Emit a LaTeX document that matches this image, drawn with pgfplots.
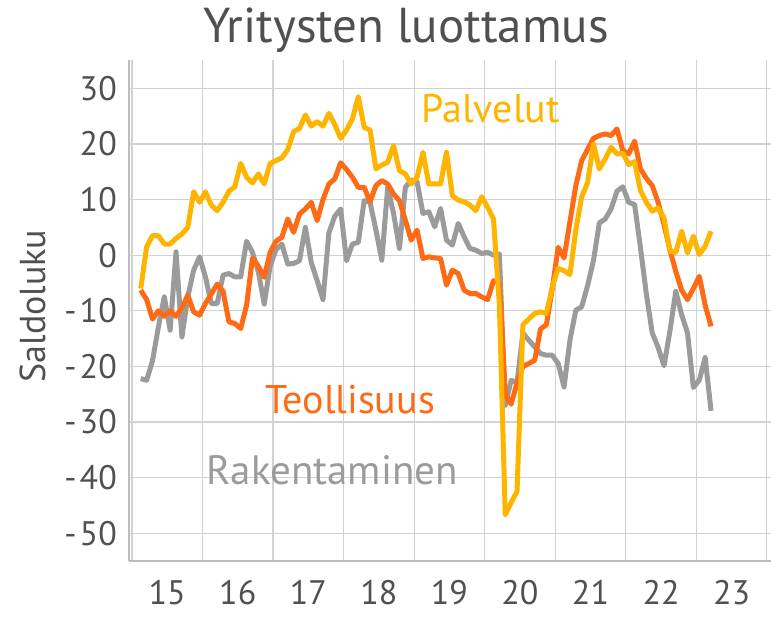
\documentclass[border=0pt]{standalone}
\usepackage{fontspec}
\setmainfont{PT Sans}
\usepackage{pgfplots}
\pgfplotsset{compat=1.18}
\definecolor{cpal}{HTML}{FFB400}
\definecolor{cteo}{HTML}{FF6A14}
\definecolor{crak}{HTML}{9B9B9B}
\definecolor{cgrid}{HTML}{D2D2D2}
\definecolor{caxis}{HTML}{BDBDBD}
\definecolor{ctext}{HTML}{505050}
\begin{document}
\begin{tikzpicture}[x=1pt,y=1pt]
\useasboundingbox (0,0) rectangle (771,616);
\begin{axis}[
  at={(129pt,55pt)}, anchor=south west,
  scale only axis, width=642pt, height=500.5pt,
  xmin=-0.5, xmax=108.7, ymin=-55, ymax=35,
  axis x line*=bottom, axis y line*=left,
  axis line style={caxis, line width=1.5pt},
  xtick={0,12,...,108},
  xticklabels={15,16,17,18,19,20,21,22,23},
  x tick label as interval,
  ytick={-50,-40,...,30},
  yticklabels={-\kern3pt 50,-\kern3pt 40,-\kern3pt 30,-\kern3pt 20,-\kern3pt 10,0,10,20,30},
  grid=major,
  major grid style={cgrid, line width=1.2pt},
  major tick length=0pt,
  tick label style={font=\fontsize{34}{40}\selectfont, text=ctext},
  yticklabel style={anchor=east, inner sep=0pt, xshift=-12pt},
  xticklabel style={anchor=north, inner sep=0pt, yshift=-19pt},
  every axis plot/.append style={line width=5pt, line join=round, no markers},
]
\addplot[crak] coordinates {(1.5,-22.2)(2.5,-22.5)(3.5,-19)(4.5,-12.9)(5.5,-7.5)(6.5,-13.5)(7.5,0.6)(8.5,-14.7)(9.5,-7.5)(10.5,-2.7)(11.5,-0.3)(12.5,-3.9)(13.5,-8.7)(14.5,-8.7)(15.5,-3.6)(16.5,-3.3)(17.5,-3.9)(18.5,-3.9)(19.5,2.5)(20.5,0.5)(21.5,-3)(22.5,-8.8)(23.5,-2)(24.5,1)(25.5,2)(26.5,-1.6)(27.5,-1.5)(28.5,-1)(29.5,5)(30.5,-1.3)(31.5,-4.6)(32.5,-8)(33.5,4)(34.5,7)(35.5,8.3)(36.5,-1)(37.5,2)(38.5,2.3)(39.5,9.8)(40.5,9.5)(41.5,4.5)(42.5,-0.9)(43.5,12.2)(44.5,7.5)(45.5,1.2)(46.5,12.2)(47.5,13.5)(48.5,13.2)(49.5,7.5)(50.5,7.8)(51.5,5.1)(52.5,8.4)(53.5,2.7)(54.5,1.8)(55.5,5.7)(56.5,3.3)(57.5,1.2)(58.5,0.9)(59.5,0.3)(60.5,0.5)(61.5,0)(62.5,0.2)(63.5,-27)(64.5,-22.5)(65.5,-23)(66.5,-14)(67.5,-15.3)(68.5,-16.5)(69.5,-17.7)(70.5,-18)(71.5,-18)(72.5,-19.5)(73.5,-23.7)(74.5,-15.3)(75.5,-9.9)(76.5,-9.3)(77.5,-5.5)(78.5,-1)(79.5,5.8)(80.5,6.5)(81.5,8.3)(82.5,11.5)(83.5,12.3)(84.5,9.5)(85.5,9.1)(86.5,1.3)(87.5,-7)(88.5,-14)(89.5,-16.6)(90.5,-19.9)(91.5,-13.7)(92.5,-6.5)(93.5,-10.7)(94.5,-14)(95.5,-23.8)(96.5,-22.5)(97.5,-18.4)(98.5,-28)};
\addplot[cteo] coordinates {(1.5,-6.3)(2.5,-8)(3.5,-11.5)(4.5,-10)(5.5,-11)(6.5,-10)(7.5,-11)(8.5,-9.5)(9.5,-7.2)(10.5,-10.2)(11.5,-10.8)(12.5,-8.7)(13.5,-7)(14.5,-5.2)(15.5,-6.5)(16.5,-12)(17.5,-12.3)(18.5,-13.2)(19.5,-9)(20.5,-0.5)(21.5,-2)(22.5,-4)(23.5,0.5)(24.5,2.5)(25.5,3.2)(26.5,6.5)(27.5,4.1)(28.5,7.4)(29.5,8.3)(30.5,9.5)(31.5,6.2)(32.5,10)(33.5,12.8)(34.5,13.7)(35.5,16.6)(36.5,15.4)(37.5,14)(38.5,12.2)(39.5,12.2)(40.5,9.6)(41.5,12.5)(42.5,13.4)(43.5,12.8)(44.5,11)(45.5,9.8)(46.5,6.3)(47.5,2.7)(48.5,4.5)(49.5,-0.6)(50.5,-0.3)(51.5,-0.5)(52.5,-0.6)(53.5,-5.4)(54.5,-2.7)(55.5,-3.3)(56.5,-6.3)(57.5,-6.9)(58.5,-6.9)(59.5,-7.5)(60.5,-8)(61.5,-4.6)(62.5,-5)(63.5,-25)(64.5,-26.8)(65.5,-23)(66.5,-20)(67.5,-19.5)(68.5,-18.9)(69.5,-13.3)(70.5,-12.5)(71.5,-6)(72.5,1.4)(73.5,-0.5)(74.5,6)(75.5,12.5)(76.5,17)(77.5,19)(78.5,21)(79.5,21.5)(80.5,21.8)(81.5,21.5)(82.5,22.7)(83.5,18.8)(84.5,18.2)(85.5,20.5)(86.5,15.5)(87.5,13.8)(88.5,12.5)(89.5,9.5)(90.5,5.5)(91.5,1)(92.5,-2.9)(93.5,-6.3)(94.5,-8)(95.5,-6)(96.5,-3.8)(97.5,-9)(98.5,-12.8)};
\addplot[cpal] coordinates {(1.5,-6)(2.5,1.5)(3.5,3.5)(4.5,3.5)(5.5,2)(6.5,2)(7.5,3)(8.5,3.8)(9.5,5)(10.5,11.4)(11.5,9.5)(12.5,11.4)(13.5,9)(14.5,8)(15.5,9.5)(16.5,11.5)(17.5,12.3)(18.5,16.5)(19.5,14)(20.5,13)(21.5,14.6)(22.5,12.8)(23.5,16.5)(24.5,17)(25.5,17.5)(26.5,19)(27.5,22.2)(28.5,22.8)(29.5,25.2)(30.5,23.2)(31.5,24)(32.5,23.2)(33.5,25.5)(34.5,23.5)(35.5,21)(36.5,22.5)(37.5,24.5)(38.5,28.5)(39.5,23)(40.5,22.5)(41.5,15.5)(42.5,16.2)(43.5,16.7)(44.5,19.7)(45.5,15.2)(46.5,14.6)(47.5,12.8)(48.5,14)(49.5,18.5)(50.5,12.8)(51.5,12.8)(52.5,12.8)(53.5,18.5)(54.5,10.7)(55.5,9.9)(56.5,9.6)(57.5,9)(58.5,8)(59.5,10.5)(60.5,8.6)(61.5,6.5)(62.5,-9)(63.5,-46.7)(64.5,-44.5)(65.5,-42.5)(66.5,-12.5)(67.5,-11.5)(68.5,-10.5)(69.5,-10.2)(70.5,-10.5)(71.5,-5.7)(72.5,-2.4)(73.5,-2.8)(74.5,-3.5)(75.5,4.5)(76.5,10.5)(77.5,13)(78.5,20)(79.5,15.5)(80.5,17.3)(81.5,19.4)(82.5,18.2)(83.5,18.3)(84.5,16.3)(85.5,16.8)(86.5,11.6)(87.5,9.5)(88.5,7.9)(89.5,8.5)(90.5,6.7)(91.5,0.7)(92.5,0.5)(93.5,4.3)(94.5,0.4)(95.5,3.4)(96.5,0.1)(97.5,1.6)(98.5,4.3)};
\node[anchor=base west, text=cpal, font=\fontsize{40}{46}\selectfont, inner sep=0pt] at (axis cs:49.2,23.9) {Palvelut};
\node[anchor=base west, text=cteo, font=\fontsize{40}{46}\selectfont, inner sep=0pt] at (axis cs:22.7,-28.4) {Teollisuus};
\node[anchor=base west, text=crak, font=\fontsize{41}{47}\selectfont, inner sep=0pt] at (axis cs:12.7,-41.3) {Rakentaminen};
\end{axis}
\node[anchor=base, text=ctext, font=\fontsize{49}{55}\selectfont, inner sep=0pt] at (406,573) {Yritysten luottamus};
\node[rotate=90, anchor=base, text=ctext, font=\fontsize{36}{42}\selectfont, inner sep=0pt] at (45,310) {Saldoluku};
\end{tikzpicture}
\end{document}
